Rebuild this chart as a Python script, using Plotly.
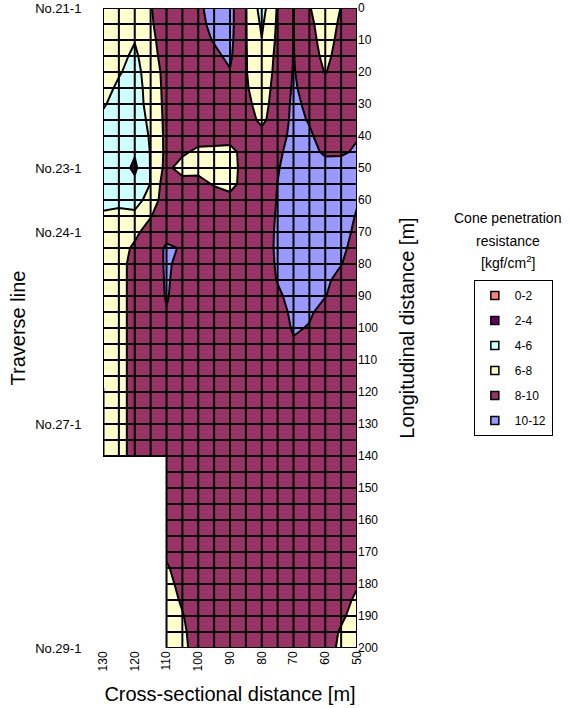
import plotly.graph_objects as go

# ---------------- data ----------------
x_cross = [130, 125, 120, 115, 110, 105, 100, 95, 90, 85, 80, 75, 70, 65, 60, 55, 50]
y_long = [0, 5, 10, 15, 20, 25, 30, 35, 40, 45, 50, 55, 60, 65, 70, 75, 80, 85, 90, 95, 100,
          105, 110, 115, 120, 125, 130, 135, 140, 145, 150, 155, 160, 165, 170, 175, 180,
          185, 190, 195, 200]

x_ticks = [130, 120, 110, 100, 90, 80, 70, 60, 50]
y_ticks = [0, 10, 20, 30, 40, 50, 60, 70, 80, 90, 100, 110, 120, 130, 140, 150, 160, 170, 180, 190, 200]

traverse_pos = [0, 50, 70, 130, 200]
traverse_names = ["No.21-1", "No.23-1", "No.24-1", "No.27-1", "No.29-1"]

band_labels = ["0-2", "2-4", "4-6", "6-8", "8-10", "10-12"]
band_colors = ["#FF8080", "#660066", "#CCFFFF", "#FFFFCC", "#993366", "#9999FF"]

N = None
# cone penetration resistance [kgf/cm2]; rows = y_long, columns = x_cross
resistance = [
    [7.0, 7.0, 7.2, 7.9, 9.0, 9.0, 9.7, 10.6, 10.6, 8.1, 5.2, 8.2, 10.05, 8.1, 7.0, 8.05, 9.0],
    [7.0, 7.0, 6.8, 7.8, 8.9, 9.0, 9.6, 10.4, 10.6, 8.1, 5.7, 8.3, 10.05, 8.4, 7.1, 8.3, 9.0],
    [7.0, 6.9, 6.1, 7.6, 8.8, 9.0, 9.5, 10.1, 10.5, 8.1, 6.05, 8.4, 10.05, 8.6, 7.3, 8.5, 9.0],
    [7.0, 6.6, 5.6, 7.4, 8.7, 9.0, 9.3, 9.7, 10.3, 8.1, 6.6, 8.5, 10.05, 8.9, 7.5, 8.8, 9.0],
    [6.9, 6.2, 5.2, 7.2, 8.5, 9.0, 9.2, 9.5, 9.9, 8.1, 6.8, 8.6, 10.1, 9.2, 7.9, 9.0, 9.0],
    [6.8, 5.6, 5.0, 7.0, 8.5, 9.0, 9.1, 9.2, 9.4, 8.2, 7.0, 8.8, 10.2, 9.4, 8.6, 9.1, 9.0],
    [6.2, 5.3, 5.0, 6.8, 8.5, 9.0, 9.0, 9.1, 9.2, 8.5, 7.2, 9.0, 10.3, 9.7, 9.0, 9.2, 9.0],
    [5.6, 5.1, 4.8, 6.5, 8.5, 9.0, 9.0, 9.1, 9.1, 8.8, 7.6, 9.0, 10.4, 9.9, 9.2, 9.3, 9.0],
    [5.4, 5.0, 4.7, 6.21, 8.5, 9.0, 9.0, 9.2, 9.0, 9.0, 8.6, 9.3, 10.5, 10.2, 9.4, 9.3, 9.9],
    [5.3, 5.0, 4.2, 6.1, 8.5, 8.4, 7.5, 7.3, 7.2, 9.0, 9.0, 9.7, 10.6, 10.4, 9.8, 9.8, 10.2],
    [5.3, 5.0, 3.6, 6.1, 8.6, 7.0, 7.3, 7.0, 7.0, 9.0, 9.0, 9.9, 10.7, 10.7, 10.5, 10.6, 10.4],
    [5.5, 5.2, 4.5, 6.05, 9.3, 9.0, 8.8, 7.8, 7.2, 9.0, 9.0, 10.02, 10.8, 10.9, 10.7, 10.7, 10.3],
    [5.8, 5.6, 5.5, 6.5, 9.5, 9.0, 9.0, 9.2, 8.8, 9.0, 9.0, 10.1, 10.8, 10.9, 10.8, 10.7, 10.1],
    [6.1, 6.4, 6.3, 7.9, 9.3, 9.0, 9.0, 9.0, 9.0, 9.0, 9.0, 10.2, 10.8, 10.9, 10.8, 10.6, 9.9],
    [6.8, 7.0, 7.6, 8.8, 9.5, 9.0, 9.0, 9.0, 9.0, 9.0, 9.0, 10.3, 10.8, 10.9, 10.7, 10.5, 9.7],
    [7.0, 7.3, 8.3, 9.2, 10.2, 9.9, 9.0, 9.0, 9.0, 9.0, 9.0, 10.35, 10.8, 10.9, 10.6, 10.3, 9.5],
    [7.0, 7.5, 8.5, 9.2, 10.2, 9.6, 9.0, 9.0, 9.0, 9.0, 9.0, 10.25, 10.8, 10.9, 10.5, 10.05, 9.2],
    [7.0, 7.5, 8.5, 9.2, 10.15, 9.5, 9.0, 9.0, 9.0, 9.0, 9.0, 10.1, 10.8, 10.9, 10.3, 9.5, 9.0],
    [7.0, 7.5, 8.5, 9.2, 10.1, 9.4, 9.0, 9.0, 9.0, 9.0, 9.0, 9.7, 10.6, 10.6, 10.05, 9.3, 9.0],
    [7.0, 7.5, 8.5, 9.2, 9.95, 9.2, 9.0, 9.0, 9.0, 9.0, 9.0, 9.3, 10.4, 10.2, 9.5, 9.1, 9.0],
    [7.0, 7.5, 8.5, 9.0, 9.5, 9.0, 9.0, 9.0, 9.0, 9.0, 9.0, 9.0, 10.2, 9.9, 9.2, 9.0, 9.0],
    [7.0, 7.5, 8.5, 9.0, 9.0, 9.0, 9.0, 9.0, 9.0, 9.0, 9.0, 9.0, 9.8, 9.3, 9.0, 9.0, 9.0],
    [6.5, 7.5, 8.5, 9.0, 9.0, 9.0, 9.0, 9.0, 9.0, 9.0, 9.0, 9.0, 9.3, 9.0, 9.0, 9.0, 9.0],
    [6.1, 7.5, 8.5, 9.0, 9.0, 9.0, 9.0, 9.0, 9.0, 9.0, 9.0, 9.0, 9.0, 9.0, 9.0, 9.0, 9.0],
    [5.95, 7.5, 8.5, 9.0, 9.0, 9.0, 9.0, 9.0, 9.0, 9.0, 9.0, 9.0, 9.0, 9.0, 9.0, 9.0, 9.0],
    [5.95, 7.5, 8.5, 9.0, 9.0, 9.0, 9.0, 9.0, 9.0, 9.0, 9.0, 9.0, 9.0, 9.0, 9.0, 9.0, 9.0],
    [5.95, 7.5, 8.5, 9.0, 9.0, 9.0, 9.0, 9.0, 9.0, 9.0, 9.0, 9.0, 9.0, 9.0, 9.0, 9.0, 9.0],
    [5.95, 7.5, 8.5, 9.0, 9.0, 9.0, 9.0, 9.0, 9.0, 9.0, 9.0, 9.0, 9.0, 9.0, 9.0, 9.0, 9.0],
    [5.95, 7.5, 8.5, 9.0, 9.0, 9.0, 9.0, 9.0, 9.0, 9.0, 9.0, 9.0, 9.0, 9.0, 9.0, 9.0, 9.0],
    [N, N, N, N, 9.0, 9.0, 9.0, 9.0, 9.0, 9.0, 9.0, 9.0, 9.0, 9.0, 9.0, 9.0, 9.0],
    [N, N, N, N, 9.0, 9.0, 9.0, 9.0, 9.0, 9.0, 9.0, 9.0, 9.0, 9.0, 9.0, 9.0, 9.0],
    [N, N, N, N, 9.0, 9.0, 9.0, 9.0, 9.0, 9.0, 9.0, 9.0, 9.0, 9.0, 9.0, 9.0, 9.0],
    [N, N, N, N, 9.0, 9.0, 9.0, 9.0, 9.0, 9.0, 9.0, 9.0, 9.0, 9.0, 9.0, 9.0, 9.0],
    [N, N, N, N, 9.0, 9.0, 9.0, 9.0, 9.0, 9.0, 9.0, 9.0, 9.0, 9.0, 9.0, 9.0, 9.0],
    [N, N, N, N, 8.3, 9.0, 9.0, 9.0, 9.0, 9.0, 9.0, 9.0, 9.0, 9.0, 9.0, 9.0, 9.0],
    [N, N, N, N, 7.8, 8.8, 9.0, 9.0, 9.0, 9.0, 9.0, 9.0, 9.0, 9.0, 9.0, 9.0, 8.7],
    [N, N, N, N, 7.5, 8.5, 9.0, 9.0, 9.0, 9.0, 9.0, 9.0, 9.0, 9.0, 9.0, 9.0, 8.2],
    [N, N, N, N, 7.3, 8.2, 9.0, 9.0, 9.0, 9.0, 9.0, 9.0, 9.0, 9.0, 9.0, 8.8, 7.6],
    [N, N, N, N, 7.2, 7.9, 8.9, 9.0, 9.0, 9.0, 9.0, 9.0, 9.0, 9.0, 9.0, 8.3, 7.3],
    [N, N, N, N, 7.1, 7.7, 8.8, 9.0, 9.0, 9.0, 9.0, 9.0, 9.0, 9.0, 8.9, 7.8, 7.0],
    [N, N, N, N, 7.0, 7.6, 8.7, 9.0, 9.0, 9.0, 9.0, 9.0, 9.0, 9.0, 8.8, 7.6, 6.9],
]

# ---------------- helpers ----------------
FONT = "Liberation Sans, Arial, sans-serif"
n_rows, n_cols = len(y_long), len(x_cross)

# columns / rows that hold a value over the full depth vs. the short block
full_cols = [c for c in range(n_cols) if all(resistance[r][c] is not None for r in range(n_rows))]
short_cols = [c for c in range(n_cols) if c not in full_cols]
short_rows = [r for r in range(n_rows) if all(resistance[r][c] is not None for c in range(n_cols))]
# the short block shares its boundary column with the full block
join_col = full_cols[0]
left_cols = short_cols + [join_col]

# discrete, stepped colour scale: one colour per 2-unit band (bands 0-2 ... 10-12)
nb = len(band_colors)
colorscale = []
for i, c in enumerate(band_colors):
    lo = max(0.0, (i - 0.5) / (nb - 1))
    hi = min(1.0, (i + 0.5) / (nb - 1))
    colorscale += [[lo, c], [hi, c]]

contour_common = dict(
    autocontour=False,
    contours=dict(start=2, end=10, size=2, coloring="fill", showlines=True),
    line=dict(color="black", width=2, smoothing=0),
    colorscale=colorscale,
    showscale=False,
    hoverinfo="skip",
    showlegend=False,
)

fig = go.Figure()

# full-depth block (x 110..50, y 0..200)
fig.add_trace(go.Contour(
    x=[x_cross[c] for c in full_cols],
    y=y_long,
    z=[[resistance[r][c] for c in full_cols] for r in range(n_rows)],
    **contour_common,
))
# short block (x 130..110, y 0..140)
fig.add_trace(go.Contour(
    x=[x_cross[c] for c in left_cols],
    y=[y_long[r] for r in short_rows],
    z=[[resistance[r][c] for c in left_cols] for r in short_rows],
    **contour_common,
))

# mesh lines over the measured area
gx, gy = [], []
for c in range(n_cols):
    ys = [y_long[r] for r in range(n_rows) if resistance[r][c] is not None]
    gx += [x_cross[c], x_cross[c], None]
    gy += [min(ys), max(ys), None]
for r in range(n_rows):
    xs = [x_cross[c] for c in range(n_cols) if resistance[r][c] is not None]
    gx += [max(xs), min(xs), None]
    gy += [y_long[r], y_long[r], None]
fig.add_trace(go.Scatter(
    x=gx, y=gy, mode="lines", line=dict(color="black", width=2),
    hoverinfo="skip", showlegend=False, yaxis="y2",
))

# legend entries
for i, (lab, col) in enumerate(zip(band_labels, band_colors)):
    fig.add_trace(go.Scatter(
        x=[None], y=[None], mode="markers", name=lab,
        legendgroup="g%d" % i,
        marker=dict(symbol="square", size=8, color=col, line=dict(color="black", width=1.5)),
    ))

fig.update_layout(
    width=569, height=708,
    margin=dict(l=103, r=212, t=8, b=60, autoexpand=False),
    paper_bgcolor="white", plot_bgcolor="white",
    font=dict(family=FONT, size=12, color="black"),
    xaxis=dict(
        range=[130, 50], tickvals=x_ticks, tickangle=-90, automargin=False,
        showgrid=False, zeroline=False, showline=False, ticks="",
        tickfont=dict(size=12),
        title=dict(text="Cross-sectional distance [m]", font=dict(size=20), standoff=16),
    ),
    yaxis=dict(
        range=[200, 0], side="right", tickvals=y_ticks, automargin=False,
        showgrid=False, zeroline=False, showline=False, ticks="",
        tickfont=dict(size=12),
        title=dict(text="Longitudinal distance [m]", font=dict(size=20), standoff=22),
    ),
    yaxis2=dict(
        range=[200, 0], side="left", overlaying="y", automargin=False,
        tickvals=traverse_pos, ticktext=traverse_names,
        showgrid=False, zeroline=False, showline=False,
        ticks="outside", ticklen=18, tickcolor="rgba(0,0,0,0)",
        tickfont=dict(size=13),
        title=dict(text="Traverse line", font=dict(size=20), standoff=4),
    ),
    legend=dict(
        x=1.46, y=0.575, xanchor="left", yanchor="top",
        bordercolor="black", borderwidth=1, bgcolor="white",
        traceorder="grouped", tracegroupgap=6, itemwidth=30,
        font=dict(size=12),
    ),
    annotations=[
        dict(text="Cone penetration", x=1.594, y=0.672, xref="paper", yref="paper",
             xanchor="center", yanchor="middle", showarrow=False, font=dict(size=14)),
        dict(text="resistance", x=1.594, y=0.636, xref="paper", yref="paper",
             xanchor="center", yanchor="middle", showarrow=False, font=dict(size=14)),
        dict(text="[kgf/cm<sup>2</sup>]", x=1.594, y=0.603, xref="paper", yref="paper",
             xanchor="center", yanchor="middle", showarrow=False, font=dict(size=14)),
    ],
)

# remove the default page margin so the figure fills the 569x708 window exactly
fig.write_html(
    "out.html",
    config={"displayModeBar": False},
    post_script="document.body.style.margin='0px';",
)
